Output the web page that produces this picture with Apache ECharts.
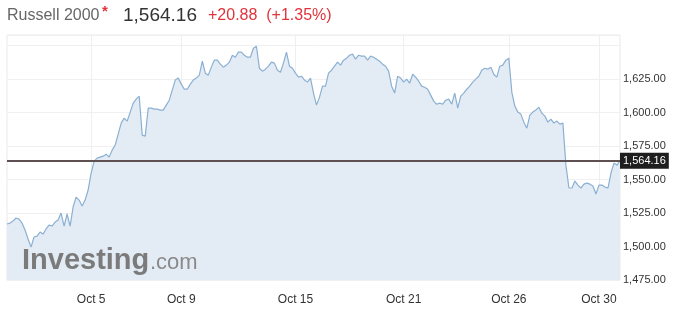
<!DOCTYPE html>
<html><head><meta charset="utf-8">
<script src="https://cdn.jsdelivr.net/npm/echarts@6/dist/echarts.min.js"></script>
<style>html,body{margin:0;padding:0;background:#fff}#c{width:680px;height:319px}</style>
</head><body><div id="c"></div>
<script>
const values = [
1516.8,1517.5,1519.0,1521.3,1520.5,1517.5,1512.3,1505.6,1499.6,1507.1,
1507.8,1510.8,1509.3,1513.1,1516.0,1515.3,1518.3,1519.8,1525.0,1515.3,
1524.3,1515.3,1529.5,1536.9,1534.7,1530.2,1534.7,1542.2,1554.9,1563.8,
1566.0,1566.8,1567.5,1569.0,1566.8,1572.0,1575.8,1584.0,1592.2,1595.9,
1593.7,1600.4,1607.1,1610.1,1612.3,1583.2,1582.5,1603.4,1603.4,1602.6,
1602.6,1601.9,1601.9,1605.6,1609.3,1616.8,1624.3,1625.8,1621.3,1617.5,
1617.5,1621.3,1624.3,1625.8,1628.0,1638.4,1629.5,1628.0,1634.0,1639.2,
1639.2,1636.2,1634.0,1635.5,1637.7,1642.9,1641.4,1645.2,1645.2,1642.9,
1641.4,1641.4,1648.1,1649.6,1633.2,1631.0,1632.5,1634.7,1637.7,1637.0,
1631.7,1630.2,1637.0,1645.2,1634.7,1633.2,1629.5,1626.5,1627.2,1624.3,
1622.8,1625.8,1614.6,1605.6,1611.6,1619.8,1619.8,1629.5,1631.7,1634.7,
1637.7,1635.5,1639.2,1640.7,1642.9,1643.7,1639.9,1642.9,1642.2,1642.2,
1639.2,1642.2,1641.4,1639.9,1638.4,1636.2,1634.7,1631.0,1619.8,1614.6,
1627.2,1625.8,1622.8,1625.0,1622.0,1628.7,1626.5,1623.5,1619.8,1619.0,
1617.5,1613.1,1608.6,1606.3,1607.1,1606.3,1609.3,1610.1,1606.3,1614.6,
1603.4,1612.3,1614.6,1617.5,1619.8,1622.8,1625.0,1627.2,1631.7,1633.2,
1632.5,1634.0,1628.7,1626.5,1634.7,1635.5,1639.2,1640.7,1615.3,1604.9,
1600.4,1598.9,1592.9,1588.4,1598.1,1600.4,1601.9,1604.1,1599.6,1597.4,
1592.9,1595.2,1592.2,1593.7,1591.4,1592.2,1560.8,1543.7,1543.7,1548.9,
1545.9,1543.7,1546.6,1547.4,1546.6,1545.2,1539.2,1545.9,1545.9,1544.4,
1543.7,1554.9,1562.3,1560.8,1564.16
];
const tickLabels = ['Oct 5','Oct 9','Oct 15','Oct 21','Oct 26','Oct 30'];
const tickIndex = [28, 58, 96, 132, 167, 197];
const yTickValues = [1475, 1500, 1525, 1550, 1575, 1600, 1625];
const lastPrice = 1564.16;
const change = 20.88;
const changePct = 1.35;
const yMin = 1475, yMax = 1658, yStep = 25;

const categories = values.map((_, i) => {
  const k = tickIndex.indexOf(i);
  return k >= 0 ? tickLabels[k] : 'p' + i;
});
const fmt = v => v.toLocaleString('en-US', {minimumFractionDigits: 2, maximumFractionDigits: 2});
const isTick = (idx) => tickIndex.indexOf(idx) >= 0;
const FONT = '"Liberation Sans", Arial, sans-serif';

const chart = echarts.init(document.getElementById('c'), null, {renderer: 'canvas'});
chart.setOption({
  animation: false,
  backgroundColor: '#fff',
  grid: {left: 7, right: 60, top: 35, bottom: 39, show: true, borderColor: '#e9e9e9', borderWidth: 1},
  xAxis: {
    type: 'category', data: categories, boundaryGap: false,
    axisLine: {show: false}, axisTick: {show: false},
    axisLabel: {interval: isTick, color: '#333', fontSize: 12, fontFamily: FONT, margin: 14},
    splitLine: {show: true, interval: isTick, lineStyle: {color: '#efefef', width: 1}}
  },
  yAxis: {
    type: 'value', position: 'right', min: yMin, max: yMax, interval: yStep,
    axisLine: {show: false}, axisTick: {show: false},
    axisLabel: {color: '#333', fontSize: 11, fontFamily: FONT, margin: 3, showMaxLabel: false,
      formatter: v => (yTickValues.some(t => Math.abs(t - v) < 1e-6) ? fmt(v) : '')},
    splitLine: {show: true, lineStyle: {color: '#f0f0f0', width: 1}}
  },
  series: [{
    type: 'line', data: values, showSymbol: false, symbol: 'none',
    lineStyle: {color: '#8bb0d2', width: 1.2},
    areaStyle: {color: '#e3ecf5', opacity: 1},
    markLine: {
      silent: true, symbol: 'none', animation: false,
      data: [{yAxis: lastPrice}],
      lineStyle: {color: '#5e5050', width: 2, type: 'solid'},
      label: {position: 'end', distance: 0, formatter: () => fmt(lastPrice),
        backgroundColor: '#1e1e1e', color: '#fff', fontSize: 11, fontFamily: FONT,
        padding: [3, 3, 2, 3]}
    }
  }],
  graphic: [
    {type: 'text', x: 7, y: 16, z: 10, style: {text: 'Russell 2000', font: '16px ' + FONT, fill: '#666', verticalAlign: 'middle'}},
    {type: 'text', x: 102, y: 12, z: 10, style: {text: '*', font: 'bold 15px ' + FONT, fill: '#e0333c', verticalAlign: 'middle'}},
    {type: 'text', x: 123, y: 16, z: 10, style: {text: fmt(lastPrice), font: '19px ' + FONT, fill: '#333', verticalAlign: 'middle'}},
    {type: 'text', x: 208, y: 16, z: 10, style: {text: '+' + change.toFixed(2) + '  (+' + changePct.toFixed(2) + '%)', font: '16px ' + FONT, fill: '#e0333c', verticalAlign: 'middle'}},
    {type: 'text', x: 22, y: 261, z: 10, style: {text: 'Investing', font: 'bold 29px ' + FONT, fill: '#7b7b7b', verticalAlign: 'middle'}},
    {type: 'text', x: 150, y: 263, z: 10, style: {text: '.com', font: '22px ' + FONT, fill: '#8a8a8a', verticalAlign: 'middle'}}
  ]
});
</script></body></html>
